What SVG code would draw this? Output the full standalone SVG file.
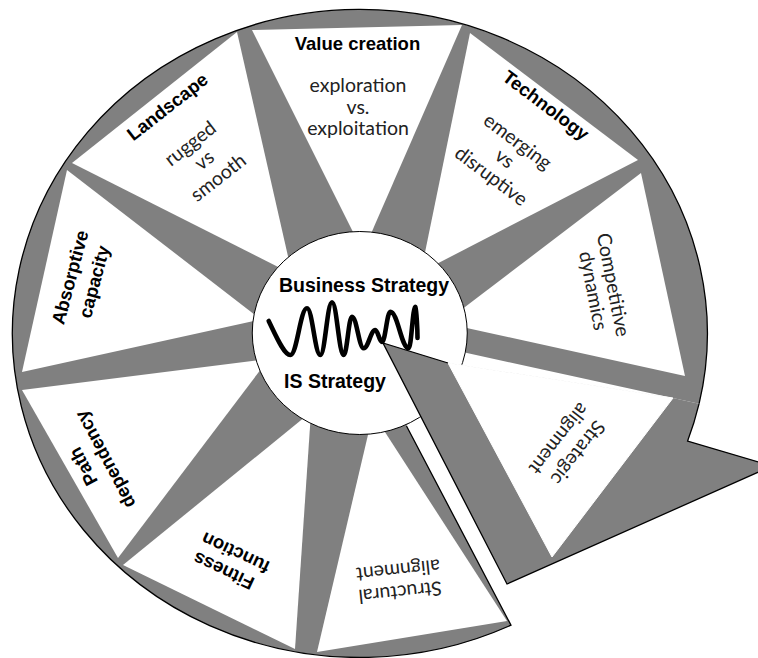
<svg xmlns="http://www.w3.org/2000/svg" width="758" height="658" viewBox="0 0 758 658">
  <style>
    .disc { fill: #808080; }
    .blade { fill: #ffffff; }
    .blade-sealed { fill: #ffffff; stroke: #ffffff; stroke-width: 1; stroke-linejoin: miter; }
    .edge { fill: none; stroke: #000; stroke-width: 1.3; stroke-linejoin: miter; }
    .hub { fill: #ffffff; stroke: #000; stroke-width: 1; }
    .wave { fill: none; stroke: #000; stroke-width: 4.6; stroke-linecap: round; stroke-linejoin: round; }
    .title { font-family: "Liberation Sans", Arial, sans-serif; font-weight: bold; font-size: 18.5px; fill: #000; text-anchor: middle; }
    .sub { font-family: Lato, "Liberation Sans", sans-serif; font-weight: 400; font-size: 19.5px; fill: #222; text-anchor: middle; }
    .core { font-family: "Liberation Sans", Arial, sans-serif; font-weight: bold; font-size: 19.5px; fill: #000; text-anchor: middle; }
  </style>

  <rect width="758" height="658" fill="#ffffff"/>

  <!-- grey wheel with the lower-right sector cut away -->
  <g id="wheel">
    <path class="disc" d="M 511 625.2 A 347.5 324 0 1 1 699.1 403.7 L 450 349.3 L 406.5 426 Z"/>
  </g>

  <!-- white blades of the wheel, each with its labels -->
  <g id="value-creation">
    <polygon class="blade" points="252,30 462,25 363,252"/>
    <text class="title" x="357.5" y="50">Value creation</text>
    <text class="sub" x="358" y="92">exploration</text>
    <text class="sub" x="358" y="113.5">vs.</text>
    <text class="sub" x="358" y="135">exploitation</text>
  </g>

  <g id="technology">
    <polygon class="blade" points="470,33 638,160 421,272"/>
    <text class="title" transform="translate(545.3 106) rotate(37)" y="5.4">Technology</text>
    <text class="sub" transform="translate(517 142.5) rotate(37)" y="5.4">emerging</text>
    <text class="sub" transform="translate(504 159.5) rotate(37)" y="5.4">vs</text>
    <text class="sub" transform="translate(490.5 177) rotate(37)" y="5.4">disruptive</text>
  </g>

  <g id="competitive-dynamics">
    <polygon class="blade" points="641,173 685,376 444,323"/>
    <text class="sub" transform="translate(612 285) rotate(79)" y="5.4">Competitive</text>
    <text class="sub" transform="translate(592 291) rotate(79)" y="5.4">dynamics</text>
  </g>

  <g id="structural-alignment">
    <polygon class="blade" points="317,652 507,621 373,413.5"/>
    <text class="sub" transform="translate(400 591) rotate(174)" y="5.4">Structural</text>
    <text class="sub" transform="translate(398 569) rotate(174)" y="5.4">alignment</text>
  </g>

  <g id="fitness-function">
    <polygon class="blade" points="123,565 295,649 311,412"/>
    <text class="title" transform="translate(224 570) rotate(205)" y="5.4">Fitness</text>
    <text class="title" transform="translate(236 552) rotate(205)" y="5.4">function</text>
  </g>

  <g id="path-dependency">
    <polygon class="blade" points="22,390 118,558 268.7,358.9"/>
    <text class="title" transform="translate(84 466) rotate(-118)" y="5.4">Path</text>
    <text class="title" transform="translate(106 459) rotate(-118)" y="5.4">dependency</text>
  </g>

  <g id="absorptive-capacity">
    <polygon class="blade" points="67,170 22,372 261,319.5"/>
    <text class="title" transform="translate(71 277.5) rotate(-75)" y="5.4">Absorptive</text>
    <text class="title" transform="translate(95 282) rotate(-75)" y="5.4">capacity</text>
  </g>

  <g id="landscape">
    <polygon class="blade" points="237,32 72,163 292,274"/>
    <text class="title" transform="translate(168 107.5) rotate(-38)" y="5.4">Landscape</text>
    <text class="sub" transform="translate(191 144.5) rotate(-38)" y="5.4">rugged</text>
    <text class="sub" transform="translate(205 161) rotate(-38)" y="5.4">vs</text>
    <text class="sub" transform="translate(219 178.5) rotate(-38)" y="5.4">smooth</text>
  </g>

  <!-- outline of the wheel rim and the cut edge -->
  <path class="edge" d="M 406.5 426 L 511 625.2 A 347.5 324 0 1 1 699.1 403.7"/>

  <!-- central hub -->
  <g id="hub">
    <ellipse class="hub" cx="359.75" cy="333" rx="107.5" ry="101.5"/>
  </g>

  <!-- sector pulled out of the wheel, forming the pointer -->
  <g id="strategic-alignment">
    <path class="disc" d="M 383 343 L 448 363 L 673 398 L 699.1 403.7 A 347.5 324 0 0 1 687.6 441 L 772 466 L 507 584 Z"/>
    <polygon class="blade-sealed" points="448,363 673,398 552,557"/>
    <path class="edge" d="M 448 363 L 383 343 L 507 584 L 772 466 L 687.6 441 A 347.5 324 0 0 0 699.1 403.7"/>
    <text class="sub" transform="translate(577 452) rotate(128)" y="5.4">Strategic</text>
    <text class="sub" transform="translate(558 438) rotate(128)" y="5.4">alignment</text>
  </g>

  <!-- oscillation between the two strategies -->
  <g id="connectors">
    <path class="wave" d="M 268.7 321 C 276 336, 284 355, 290.3 355 C 297 355, 300.3 308.3, 307 308.3 C 312.3 308.3, 315 355, 320.3 355 C 325 355, 327.3 302.3, 332 302.3 C 336.7 302.3, 339 355, 343.7 355 C 347 355, 348.7 316.7, 352 316.7 C 356.7 316.7, 359 348.3, 363.7 348.3 C 368.3 348.3, 370.7 330, 375.3 330 C 378 330, 379.3 342, 382 342 C 385.3 342, 387 311.7, 390.3 311.7 C 397.7 311.7, 401.3 348.3, 408.7 348.3 C 411.3 348.3, 412.7 306.7, 415.3 306.7 C 416.5 310, 417.5 330, 417.5 338"/>
  </g>

  <g id="strategies">
    <text class="core" x="364" y="292">Business Strategy</text>
    <text class="core" x="335" y="388">IS Strategy</text>
  </g>
</svg>
